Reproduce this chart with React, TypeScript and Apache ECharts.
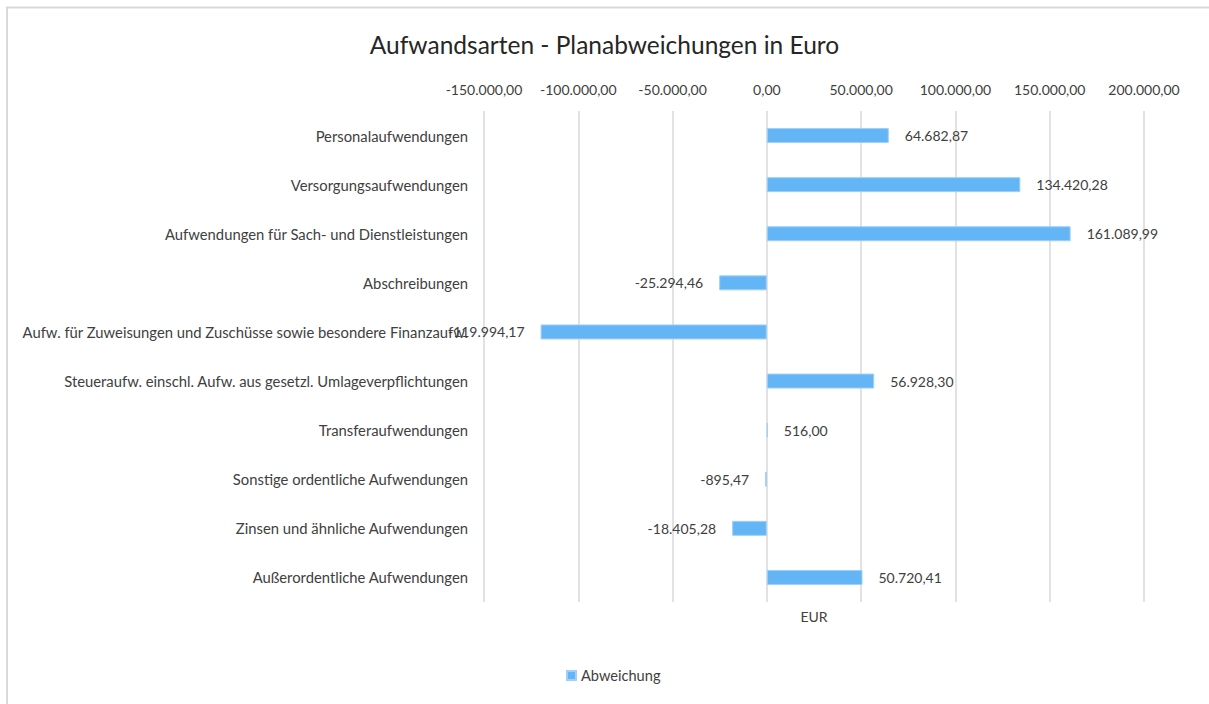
import React, { useEffect, useRef } from "react";
import * as echarts from "echarts";

const categories = [
  "Personalaufwendungen",
  "Versorgungsaufwendungen",
  "Aufwendungen für Sach- und Dienstleistungen",
  "Abschreibungen",
  "Aufw. für Zuweisungen und Zuschüsse sowie besondere Finanzaufw.",
  "Steueraufw. einschl. Aufw. aus gesetzl. Umlageverpflichtungen",
  "Transferaufwendungen",
  "Sonstige ordentliche Aufwendungen",
  "Zinsen und ähnliche Aufwendungen",
  "Außerordentliche Aufwendungen",
];

const abweichung = [
  64682.87, 134420.28, 161089.99, -25294.46, -119994.17, 56928.3, 516.0, -895.47, -18405.28,
  50720.41,
];

const seriesName = "Abweichung";
const axisName = "EUR";
const titleText = "Aufwandsarten - Planabweichungen in Euro";
const axisMin = -150000;
const axisMax = 200000;
const axisStep = 50000;

function fmtDe(v: number): string {
  const neg = v < 0;
  const abs = Math.abs(v);
  const fixed = abs.toFixed(2);
  const [intPart, dec] = fixed.split(".");
  const withDots = intPart.replace(/\B(?=(\d{3})+(?!\d))/g, ".");
  return (neg ? "-" : "") + withDots + "," + dec;
}

const FONT = "Lato, 'Open Sans', sans-serif";
const TEXT = "#404040";

export default function App() {
  const ref = useRef<HTMLDivElement>(null);
  useEffect(() => {
    if (!ref.current) return;
    const chart = echarts.init(ref.current, null, { renderer: "svg" });
    chart.setOption({
      animation: false,
      backgroundColor: "#ffffff",
      textStyle: { fontFamily: FONT },
      title: {
        text: titleText,
        left: "center",
        top: 27,
        textStyle: { fontFamily: FONT, fontSize: 24.5, fontWeight: "normal", color: "#262626" },
      },
      graphic: [
        {
          type: "rect",
          shape: { x: 7, y: 7.5, width: 1300, height: 800 },
          style: { fill: "none", stroke: "#d9d9d9", lineWidth: 2 },
          silent: true,
        },
      ],
      legend: {
        bottom: 16,
        left: 561,
        icon: "rect",
        itemWidth: 9,
        itemHeight: 9,
        itemGap: 5,
        textStyle: { fontFamily: FONT, fontSize: 14.6, color: TEXT },
        data: [seriesName],
      },
      grid: { left: 484, right: 65, top: 111, bottom: 102, containLabel: false },
      xAxis: [
        {
          type: "value",
          position: "top",
          min: axisMin,
          max: axisMax,
          interval: axisStep,
          axisLine: { show: false },
          axisTick: { show: false },
          axisLabel: {
            formatter: (v: number) => fmtDe(v),
            fontFamily: FONT,
            fontSize: 14,
            color: TEXT,
            margin: 15,
          },
          splitLine: { show: true, lineStyle: { color: "#d9d9d9", width: 1.5 } },
        },
        {
          type: "value",
          position: "bottom",
          min: axisMin,
          max: axisMax,
          interval: axisStep,
          name: axisName,
          nameLocation: "middle",
          nameGap: 7,
          nameTextStyle: { fontFamily: FONT, fontSize: 14, color: TEXT },
          axisLine: { show: false },
          axisTick: { show: false },
          axisLabel: { show: false },
          splitLine: { show: false },
        },
      ],
      yAxis: {
        type: "category",
        inverse: true,
        data: categories,
        axisLine: { show: false },
        axisTick: { show: false },
        axisLabel: { fontFamily: FONT, fontSize: 14.8, color: TEXT, margin: 16 },
        splitLine: { show: false },
      },
      series: [
        {
          name: seriesName,
          type: "bar",
          xAxisIndex: 0,
          barWidth: 15,
          itemStyle: { color: "#64b5f6", borderColor: "#9fd0f8", borderWidth: 1 },
          label: {
            show: true,
            fontFamily: FONT,
            fontSize: 14,
            color: TEXT,
            distance: 16,
            formatter: (p: any) => fmtDe(p.value),
          },
          data: abweichung.map((v) => ({
            value: v,
            label: { position: v < 0 ? "left" : "right" },
          })),
        },
      ],
    });
    return () => chart.dispose();
  }, []);
  return (
    <div
      ref={ref}
      style={{ position: "fixed", left: 0, top: 0, width: 1209, height: 704 }}
    />
  );
}
